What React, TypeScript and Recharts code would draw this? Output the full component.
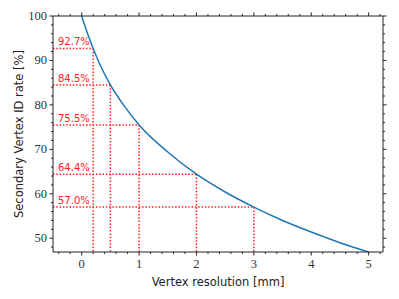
import { LineChart, Line, XAxis, YAxis, ReferenceLine } from 'recharts';

// curve
const resolution = [0, 0.1, 0.2, 0.3, 0.5, 0.75, 1, 1.5, 2, 2.5, 3, 3.5, 4, 4.5, 5];
const idRate = [100, 96.1, 92.7, 89.6, 84.5, 79.6, 75.5, 69.4, 64.4, 60.4, 57.0, 54.0, 51.4, 49.0, 46.9];

// marked working points
const markX = [0.2, 0.5, 1, 2, 3];
const markY = [92.7, 84.5, 75.5, 64.4, 57.0];
const markLabels = ['92.7%', '84.5%', '75.5%', '64.4%', '57.0%'];

const xMajor = [0, 1, 2, 3, 4, 5];
const yMajor = [50, 60, 70, 80, 90, 100];
const X_DOMAIN: [number, number] = [-0.5, 5.25];
const Y_DOMAIN: [number, number] = [46.9, 100];

const data = resolution.map((x, i) => ({ x, y: idRate[i] }));

const steps = (lo: number, hi: number, step: number) => {
  const out: number[] = [];
  for (let v = Math.ceil(lo / step) * step; v <= hi + 1e-9; v += step) out.push(Math.round(v * 100) / 100);
  return out;
};
const xTicks = steps(X_DOMAIN[0], X_DOMAIN[1], 0.2);
const yTicks = steps(Y_DOMAIN[0], Y_DOMAIN[1], 2);

const AXIS = '#222';
const RED = '#ff2020';
const SERIF = '"Liberation Serif", serif';
const SANS = '"DejaVu Sans", sans-serif';

function makeTick(side: 'bottom' | 'top' | 'left' | 'right', majors: number[], showLabel: boolean) {
  return (props: any) => {
    const { x, y, payload } = props;
    const v = payload.value as number;
    const major = majors.some((m) => Math.abs(m - v) < 1e-6);
    const len = major ? 3.5 : 2;
    let line;
    if (side === 'bottom') line = <line x1={x} y1={y} x2={x} y2={y + len} stroke={AXIS} strokeWidth={1} />;
    else if (side === 'top') line = <line x1={x} y1={y} x2={x} y2={y - len} stroke={AXIS} strokeWidth={1} />;
    else if (side === 'left') line = <line x1={x} y1={y} x2={x - len} y2={y} stroke={AXIS} strokeWidth={1} />;
    else line = <line x1={x} y1={y} x2={x + len} y2={y} stroke={AXIS} strokeWidth={1} />;
    return (
      <g>
        {line}
        {showLabel && major && side === 'bottom' && (
          <text x={x} y={y + 16} textAnchor="middle" fontFamily={SERIF} fontSize={12.5} fill="#333">
            {v}
          </text>
        )}
        {showLabel && major && side === 'left' && (
          <text x={x - 6} y={y + 4} textAnchor="end" fontFamily={SERIF} fontSize={12.5} fill="#333">
            {v}
          </text>
        )}
      </g>
    );
  };
}

export default function App() {
  return (
    <div style={{ position: 'absolute', left: 0, top: 0, width: 399, height: 299, background: '#fff' }}>
      <LineChart width={399} height={299} data={data} margin={{ top: 15, right: 15, bottom: 0, left: 0 }}>
        <XAxis
          xAxisId="b"
          dataKey="x"
          type="number"
          domain={X_DOMAIN}
          allowDataOverflow
          ticks={xTicks}
          interval={0}
          height={47}
          tickSize={0}
          tickMargin={0}
          tickLine={false}
          axisLine={{ stroke: AXIS, strokeWidth: 1 }}
          tick={makeTick('bottom', xMajor, true)}
          label={{ value: 'Vertex resolution [mm]', position: 'insideBottom', offset: 13, fontFamily: SANS, fontSize: 11.5, fill: '#222' }}
        />
        <XAxis
          xAxisId="t"
          dataKey="x"
          type="number"
          orientation="top"
          domain={X_DOMAIN}
          allowDataOverflow
          ticks={xTicks}
          interval={0}
          height={1}
          tickSize={0}
          tickMargin={0}
          tickLine={false}
          axisLine={{ stroke: AXIS, strokeWidth: 1 }}
          tick={makeTick('top', xMajor, false)}
        />
        <YAxis
          yAxisId="l"
          type="number"
          domain={Y_DOMAIN}
          allowDataOverflow
          ticks={yTicks}
          interval={0}
          width={53}
          tickSize={0}
          tickMargin={0}
          tickLine={false}
          axisLine={{ stroke: AXIS, strokeWidth: 1 }}
          tick={makeTick('left', yMajor, true)}
          label={{ value: 'Secondary Vertex ID rate [%]', angle: -90, position: 'insideLeft', offset: 19, fontFamily: SANS, fontSize: 11.5, fill: '#222', style: { textAnchor: 'middle' } }}
        />
        <YAxis
          yAxisId="r"
          type="number"
          orientation="right"
          domain={Y_DOMAIN}
          allowDataOverflow
          ticks={yTicks}
          interval={0}
          width={1}
          tickSize={0}
          tickMargin={0}
          tickLine={false}
          axisLine={{ stroke: AXIS, strokeWidth: 1 }}
          tick={makeTick('right', yMajor, false)}
        />
        {markX.map((mx, i) => (
          <ReferenceLine
            key={'h' + i}
            xAxisId="b"
            yAxisId="l"
            segment={[{ x: X_DOMAIN[0], y: markY[i] }, { x: mx, y: markY[i] }]}
            stroke={RED}
            strokeWidth={1.5}
            strokeDasharray="1.5 1.8"
            ifOverflow="visible"
            label={(p: any) => (
              <text x={p.viewBox.x + 5} y={p.viewBox.y - 3} fontFamily={SANS} fontSize={10} fill={RED}>
                {markLabels[i]}
              </text>
            )}
          />
        ))}
        {markX.map((mx, i) => (
          <ReferenceLine
            key={'v' + i}
            xAxisId="b"
            yAxisId="l"
            segment={[{ x: mx, y: markY[i] }, { x: mx, y: Y_DOMAIN[0] }]}
            stroke={RED}
            strokeWidth={1.5}
            strokeDasharray="1.5 1.8"
            ifOverflow="visible"
          />
        ))}
        <Line
          xAxisId="b"
          yAxisId="l"
          dataKey="y"
          type="monotone"
          stroke="#1f77b4"
          strokeWidth={1.5}
          dot={false}
          isAnimationActive={false}
        />
      </LineChart>
    </div>
  );
}
